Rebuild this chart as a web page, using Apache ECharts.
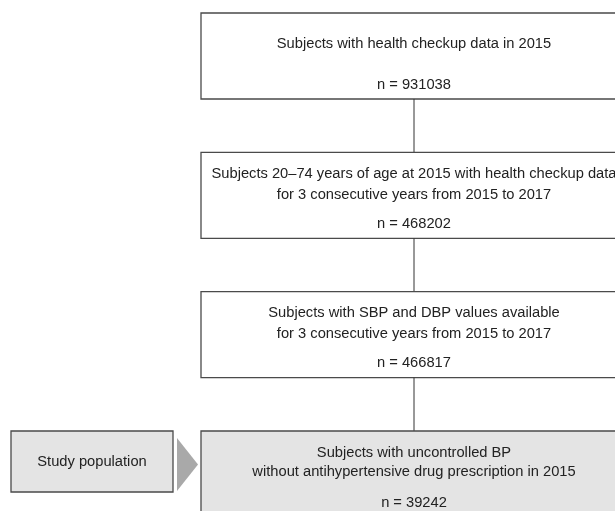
<!DOCTYPE html>
<html>
<head>
<meta charset="utf-8">
<style>
  html, body { margin: 0; padding: 0; background: #fff; }
  #flow { width: 615px; height: 511px; }
</style>
<script src="https://cdn.jsdelivr.net/npm/echarts@6/dist/echarts.min.js"></script>
</head>
<body>
<div id="flow"></div>
<script>
// flowchart steps, top to bottom
var stepLabels = [
  'Subjects with health checkup data in 2015',
  'Subjects 20\u201374 years of age at 2015 with health checkup data\nfor 3 consecutive years from 2015 to 2017',
  'Subjects with SBP and DBP values available\nfor 3 consecutive years from 2015 to 2017',
  'Subjects with uncontrolled BP\nwithout antihypertensive drug prescription in 2015'
]
var stepCounts = [931038, 468202, 466817, 39242]
var sideLabel = 'Study population'
var sideStep = 3

// layout (axis units: x in px, y in step index)
var BOX_CX = 414
var BOX_W = 426
var SIDE_CX = 92
var SIDE_W = 162
var FONT = '14.7px "Liberation Sans", Arial, Helvetica, sans-serif'
var GRAY = '#e4e4e4'
var BORDER = '#4a4a4a'

function renderStep (params, api) {
  var i = api.value(1)
  var n = api.value(2)
  var p = api.coord([BOX_CX, i])
  var cx = p[0]
  var top = p[1]
  var w = api.size([BOX_W, 0])[0]
  var last = i === stepLabels.length - 1
  var h = last ? 104 : 86
  var lines = stepLabels[i].split('\n')
  var children = [{
    type: 'rect',
    shape: { x: cx - w / 2, y: top, width: w, height: h },
    style: { fill: last ? GRAY : '#fff', stroke: BORDER, lineWidth: 1.3 }
  }]
  var offs = lines.length === 1 ? [31] : (last ? [22, 41] : [21.5, 42.5])
  lines.forEach(function (t, k) {
    children.push({
      type: 'text',
      style: { text: t, x: cx, y: top + offs[k], align: 'center', verticalAlign: 'middle', font: FONT, fill: '#222' }
    })
  })
  children.push({
    type: 'text',
    style: { text: 'n = ' + n, x: cx, y: top + 71.5, align: 'center', verticalAlign: 'middle', font: FONT, fill: '#222' }
  })
  if (!last) {
    var nextTop = api.coord([BOX_CX, i + 1])[1]
    children.push({
      type: 'line',
      shape: { x1: cx, y1: top + h, x2: cx, y2: nextTop },
      style: { stroke: '#333', lineWidth: 1 }
    })
  }
  return { type: 'group', children: children }
}

function renderSide (params, api) {
  var p = api.coord([SIDE_CX, api.value(1)])
  var cx = p[0]
  var top = p[1]
  var w = api.size([SIDE_W, 0])[0]
  var right = cx + w / 2
  return {
    type: 'group',
    children: [{
      type: 'rect',
      shape: { x: cx - w / 2, y: top, width: w, height: 61 },
      style: { fill: GRAY, stroke: BORDER, lineWidth: 1.3 }
    }, {
      type: 'text',
      style: { text: sideLabel, x: cx, y: top + 30.5, align: 'center', verticalAlign: 'middle', font: FONT, fill: '#222' }
    }, {
      type: 'polygon',
      shape: { points: [[right + 4, top + 7], [right + 25, top + 33.5], [right + 4, top + 60]] },
      style: { fill: '#a9a9a9' }
    }]
  }
}

var chart = echarts.init(document.getElementById('flow'))
chart.setOption({
  animation: false,
  grid: { left: 0, right: 0, top: 0, bottom: 0 },
  xAxis: { type: 'value', min: 0, max: 615, show: false },
  yAxis: { type: 'value', min: -0.0933, max: 3.5742, inverse: true, show: false },
  series: [{
    type: 'custom',
    clip: false,
    renderItem: renderStep,
    encode: { x: 0, y: 1 },
    data: stepCounts.map(function (n, i) { return [BOX_CX, i, n] })
  }, {
    type: 'custom',
    clip: false,
    renderItem: renderSide,
    encode: { x: 0, y: 1 },
    data: [[SIDE_CX, sideStep]]
  }]
})
</script>
</body>
</html>
